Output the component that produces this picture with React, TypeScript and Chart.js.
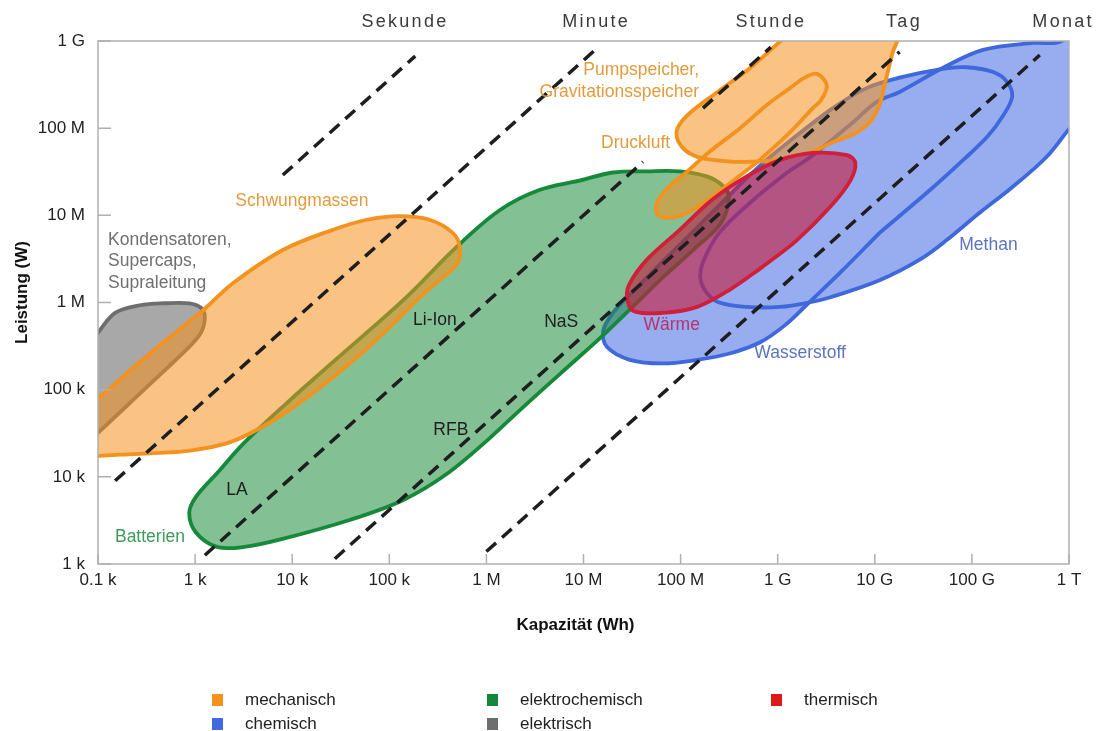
import React, { useEffect, useRef } from 'react';
import { Chart, registerables } from 'chart.js';

const FONT = "'Liberation Sans', Arial, Helvetica, sans-serif";

// ---------- axes ----------
const xTickValues = [1e2, 1e3, 1e4, 1e5, 1e6, 1e7, 1e8, 1e9, 1e10, 1e11, 1e12];
const xTickLabels = ['0.1 k', '1 k', '10 k', '100 k', '1 M', '10 M', '100 M', '1 G', '10 G', '100 G', '1 T'];
const yTickValues = [1e3, 1e4, 1e5, 1e6, 1e7, 1e8, 1e9];
const yTickLabels = ['1 k', '10 k', '100 k', '1 M', '10 M', '100 M', '1 G'];
const xAxisTitle = 'Kapazität (Wh)';
const yAxisTitle = 'Leistung (W)';

// ---------- legend ----------
const legendNames = ['mechanisch', 'elektrochemisch', 'thermisch', 'chemisch', 'elektrisch'];
const legendColors = ['#f5921e', '#13883a', '#dc1a1a', '#4169e1', '#6e6e6e'];

// ---------- storage regions: capacity (Wh) / power (W) outlines ----------
const elektrischCap = [298, 100, 51, 51, 73, 100, 150, 270, 490, 870, 1150, 1260, 1150, 870, 298];
const elektrischPow = [1.0e5, 3.2e4, 1.6e4, 1.68e5, 2.85e5, 4.5e5, 7.6e5, 9.3e5, 9.8e5, 9.8e5, 8.7e5, 6.8e5, 4.5e5, 3.1e5, 1.0e5];

const schwungCap = [343, 169, 41, 41, 105, 343, 1200, 2450, 8000, 2.6e4, 5.9e4, 1.29e5, 2.6e5, 4.5e5, 5.3e5, 5.0e5, 3.3e5, 1.93e5, 9.0e4, 3.9e4, 1.45e4, 5900, 2300, 890, 343];
const schwungPow = [1.86e4, 1.8e4, 1.8e4, 3.4e4, 8.3e4, 2.6e5, 8.1e5, 1.66e6, 4.0e6, 6.8e6, 8.9e6, 9.8e6, 8.9e6, 6.3e6, 4.4e6, 2.8e6, 1.82e6, 1.07e6, 4.6e5, 2.0e5, 8.3e4, 4.2e4, 2.5e4, 2.0e4, 1.86e4];

const batterienCap = [2.4e4, 1.4e5, 5.0e5, 1.38e6, 3.5e6, 9.1e6, 2.0e7, 4.5e7, 9.8e7, 1.86e8, 2.7e8, 3.15e8, 2.6e8, 1.48e8, 6.6e7, 3.2e7, 1.48e7, 5.7e6, 2.2e6, 1.09e6, 4.0e5, 1.38e5, 3.9e4, 7.4e3, 3.2e3, 1.68e3, 1.02e3, 870, 1.02e3, 1.68e3, 3.2e3, 9.5e3, 2.4e4];
const batterienPow = [1.9e5, 1.07e6, 4.4e6, 1.15e7, 1.95e7, 2.5e7, 3.1e7, 3.2e7, 3.2e7, 2.8e7, 2.2e7, 1.62e7, 8.1e6, 4.4e6, 1.95e6, 8.9e5, 3.9e5, 1.51e5, 5.8e4, 2.8e4, 1.1e4, 5.4e3, 3.2e3, 1.9e3, 1.57e3, 1.57e3, 2.3e3, 3.85e3, 5.9e3, 1.1e4, 2.45e4, 7.6e4, 1.9e5];

const pumpCap = [3.5e8, 7.8e8, 1.35e9, 2.3e9, 3.7e9, 6.0e9, 8.9e9, 1.12e10, 1.3e10, 1.5e10, 1.74e10, 1.6e9, 1.05e9, 5.2e8, 2.4e8, 1.17e8, 9.1e7, 1.06e8, 1.58e8, 3.5e8];
const pumpPow = [4.1e7, 4.2e7, 4.7e7, 5.4e7, 6.9e7, 8.5e7, 1.17e8, 1.86e8, 3.6e8, 6.9e8, 1.45e9, 1.45e9, 9.8e8, 4.9e8, 2.6e8, 1.4e8, 9.1e7, 5.9e7, 4.6e7, 4.1e7];

const druckCap = [6.2e8, 3.0e8, 1.6e8, 9.1e7, 5.9e7, 5.7e7, 7.8e7, 1.06e8, 2.0e8, 4.1e8, 7.8e8, 1.35e9, 1.9e9, 2.54e9, 3.2e9, 2.8e9, 2.3e9, 1.25e9, 6.2e8];
const druckPow = [4.1e7, 2.2e7, 1.3e7, 9.6e6, 1.0e7, 1.4e7, 2.2e7, 2.9e7, 5.4e7, 1.0e8, 1.86e8, 2.9e8, 3.8e8, 4.2e8, 3.1e8, 2.1e8, 1.7e8, 8.3e7, 4.1e7];

const waermeCap = [7.1e8, 1.58e9, 3.5e9, 5.6e9, 6.3e9, 5.2e9, 2.3e9, 1.05e9, 4.8e8, 2.1e8, 9.8e7, 4.5e7, 3.0e7, 2.8e7, 3.2e7, 6.6e7, 1.48e8, 3.2e8, 7.1e8];
const waermePow = [2.6e6, 5.2e6, 1.26e7, 2.5e7, 4.0e7, 4.9e7, 5.2e7, 4.3e7, 2.8e7, 1.5e7, 6.8e6, 3.1e6, 1.66e6, 1.19e6, 8.1e5, 7.6e5, 8.9e5, 1.4e6, 2.6e6];

const methanCap = [1.25e9, 5.6e8, 2.5e8, 1.7e8, 1.6e8, 1.86e8, 2.5e8, 4.8e8, 1.05e9, 2.1e9, 3.5e9, 1.12e10, 2.9e10, 5.5e10, 1.2e11, 2.6e11, 5.9e11, 9.8e11, 1.66e12, 1.66e12, 8.1e11, 4.3e11, 1.3e11, 5.0e10, 1.8e10, 1.05e10, 5.6e9, 2.3e9, 1.25e9];
const methanPow = [3.1e7, 1.5e7, 6.3e6, 2.9e6, 1.9e6, 1.29e6, 1.0e6, 8.9e5, 8.9e5, 1.0e6, 1.15e6, 1.8e6, 3.1e6, 5.2e6, 1.07e7, 2.1e7, 4.7e7, 9.5e7, 1.86e8, 1.7e9, 9.8e8, 9.5e8, 7.9e8, 4.9e8, 2.6e8, 2.0e8, 1.1e8, 4.9e7, 3.1e7];

const wasserCap = [1.12e10, 3.7e10, 8.1e10, 1.43e11, 2.1e11, 2.6e11, 2.3e11, 1.66e11, 8.9e10, 5.0e10, 1.8e10, 8.3e9, 3.7e9, 1.35e9, 6.2e8, 2.5e8, 9.8e7, 3.8e7, 2.1e7, 1.6e7, 1.74e7, 3.0e7, 6.6e7, 1.48e8, 3.2e8, 6.6e8, 1.19e9, 2.1e9, 4.4e9, 1.12e10];
const wasserPow = [6.3e6, 1.95e7, 4.3e7, 7.9e7, 1.4e8, 2.3e8, 3.4e8, 4.4e8, 5.0e8, 4.8e8, 3.8e8, 2.9e8, 1.7e8, 7.2e7, 3.5e7, 1.3e7, 4.6e6, 1.6e6, 8.1e5, 4.8e5, 3.1e5, 2.2e5, 2.0e5, 2.2e5, 2.6e5, 3.5e5, 5.5e5, 1.0e6, 2.2e6, 6.3e6];

// ---------- discharge-time lines (Wh -> W) ----------
const sekundeCap = [8.0e3, 1.85e5];
const sekundePow = [2.9e7, 6.7e8];
const minuteCap = [150, 1.4e7];
const minutePow = [9.0e3, 8.4e8];
const stundeCap = [1.26e3, 4.1e7, 8.0e7, 1.7e8, 8.5e8];
const stundePow = [1.26e3, 4.1e7, null, 1.7e8, 8.5e8];
const tagCap = [2.75e4, 1.8e10];
const tagPow = [1.15e3, 7.5e8];
const monatCap = [1.0e6, 5.0e11];
const monatPow = [1.39e3, 6.9e8];

const timeLabelNames = ['Sekunde', 'Minute', 'Stunde', 'Tag', 'Monat'];
const timeLabelCap = [1.45e5, 1.35e7, 8.5e8, 2.0e10, 8.7e11];

// ---------- region labels ----------
const regionLabelText = [
  ['Kondensatoren,', 'Supercaps,', 'Supraleitung'],
  ['Schwungmassen'],
  ['Pumpspeicher,', 'Gravitationsspeicher'],
  ['Druckluft'],
  ['Li-Ion'],
  ['NaS'],
  ['RFB'],
  ['LA'],
  ['Batterien'],
  ['Wärme'],
  ['Wasserstoff'],
  ['Methan'],
];
const regionLabelCap = [127, 1.26e4, 1.55e8, 7.8e7, 2.95e5, 5.9e6, 4.3e5, 2.7e3, 343, 8.1e7, 1.7e9, 1.48e11];
const regionLabelPow = [5.2e6, 1.46e7, 4.6e8, 6.8e7, 6.3e5, 6.0e5, 3.4e4, 7.1e3, 2.04e3, 5.5e5, 2.6e5, 4.5e6];
const regionLabelAlign = ['left', 'center', 'right', 'right', 'center', 'center', 'center', 'center', 'center', 'center', 'center', 'center'];
const regionLabelColor = ['#6f6f6f', '#e39b3e', '#e39b3e', '#e39b3e', '#1e1e1e', '#1e1e1e', '#1e1e1e', '#1e1e1e', '#3d9a57', '#b8336a', '#5b74c0', '#5b74c0'];

// ---------- styles ----------
const ORANGE = '#f3921e';
const ORANGE_FILL = 'rgba(245,146,30,0.55)';
const BLUE = '#3f68dc';
const BLUE_FILL = 'rgba(65,105,225,0.55)';
const GREEN = '#168a3a';
const GREEN_FILL = 'rgba(30,140,60,0.55)';
const GRAY = '#6e6e6e';
const GRAY_FILL = 'rgba(110,110,110,0.6)';
const RED = '#cf1f3a';
const RED_FILL = 'rgba(200,25,60,0.6)';

const pts = (cap: any[], pow: any[]) => cap.map((c, i) => ({ x: c, y: pow[i] }));

const clipOutPlugin = {
  id: 'clipOut',
  beforeDatasetDraw(chart: any, args: any) {
    const ds = chart.data.datasets[args.index];
    if (!ds || !ds.clipOut) return;
    const ctx = chart.ctx;
    ctx.save();
    const idx = chart.data.datasets.findIndex((d: any) => d.label === ds.clipOut);
    if (idx < 0) return;
    const other = chart.getDatasetMeta(idx).dataset;
    if (!other) return;
    ctx.beginPath();
    ctx.rect(0, 0, chart.width, chart.height);
    other.path(ctx);
    ctx.clip('evenodd');
  },
  afterDatasetDraw(chart: any, args: any) {
    const ds = chart.data.datasets[args.index];
    if (!ds || !ds.clipOut) return;
    chart.ctx.restore();
  },
};

Chart.register(clipOutPlugin as any);
Chart.register(...registerables);

const overlayPlugin = {
  id: 'overlay',
  afterDatasetsDraw(chart: any) {
    const { ctx, chartArea: a, scales } = chart;
    const xs = scales.x;
    const ys = scales.y;
    ctx.save();
    // frame
    ctx.strokeStyle = '#b0b0b0';
    ctx.lineWidth = 1.5;
    ctx.strokeRect(a.left, a.top, a.right - a.left, a.bottom - a.top);
    // inward tick marks
    ctx.beginPath();
    xTickValues.forEach((v) => {
      const px = xs.getPixelForValue(v);
      ctx.moveTo(px, a.bottom);
      ctx.lineTo(px, a.bottom - 10);
    });
    yTickValues.forEach((v) => {
      const py = ys.getPixelForValue(v);
      ctx.moveTo(a.left, py);
      ctx.lineTo(a.left + 13, py);
    });
    ctx.stroke();

    // region labels
    ctx.textBaseline = 'middle';
    ctx.font = `17.5px ${FONT}`;
    regionLabelText.forEach((lines, i) => {
      const px = xs.getPixelForValue(regionLabelCap[i]);
      const py = ys.getPixelForValue(regionLabelPow[i]);
      ctx.fillStyle = regionLabelColor[i];
      ctx.textAlign = regionLabelAlign[i];
      lines.forEach((t, j) => ctx.fillText(t, px, py + j * 21.5));
    });

    // time labels on top
    ctx.font = `18px ${FONT}`;
    ctx.fillStyle = '#3a3a3a';
    ctx.textAlign = 'center';
    (ctx as any).letterSpacing = '2.3px';
    timeLabelNames.forEach((t, i) => {
      ctx.fillText(t, xs.getPixelForValue(timeLabelCap[i]), a.top - 19);
    });
    (ctx as any).letterSpacing = '0px';

    // axis titles
    ctx.font = `bold 17px ${FONT}`;
    ctx.fillStyle = '#111';
    ctx.textAlign = 'center';
    ctx.fillText(xAxisTitle, (a.left + a.right) / 2 - 8, a.bottom + 61);
    ctx.save();
    ctx.translate(22, (a.top + a.bottom) / 2 - 10);
    ctx.rotate(-Math.PI / 2);
    ctx.fillText(yAxisTitle, 0, 0);
    ctx.restore();

    // legend
    const colX = [212, 487, 771];
    const rowY = [700, 724];
    ctx.font = `17px ${FONT}`;
    ctx.textAlign = 'left';
    legendNames.forEach((name, i) => {
      const cx = colX[i % 3];
      const cy = rowY[Math.floor(i / 3)];
      ctx.fillStyle = legendColors[i];
      ctx.fillRect(cx, cy - 6, 11, 12);
      ctx.fillStyle = '#222';
      ctx.fillText(name, cx + 33, cy);
    });
    ctx.restore();
  },
};

function buildConfig(): any {
  const region = (label: string, cap: number[], pow: number[], stroke: string, fill: string, order: number, extra: any = {}) => ({
    label,
    data: pts(cap, pow),
    borderColor: stroke,
    backgroundColor: fill,
    borderWidth: 3.8,
    fill: 'shape',
    tension: 0.35,
    pointRadius: 0,
    order,
    ...extra,
  });
  const timeLine = (label: string, cap: any[], pow: any[]) => ({
    label,
    data: pts(cap, pow),
    borderColor: '#1e1e1e',
    borderWidth: 3.5,
    borderDash: [13, 8],
    fill: false,
    tension: 0,
    pointRadius: 0,
    spanGaps: false,
    order: 0,
  });
  const datasets = [
    region('MethanFill', methanCap, methanPow, BLUE, BLUE_FILL, 100, { borderWidth: 0 }),
    region('WasserstoffFill', wasserCap, wasserPow, BLUE, BLUE_FILL, 99, { borderWidth: 0, clipOut: 'MethanFill' }),
    region('Methan', methanCap, methanPow, BLUE, BLUE_FILL, 98, { fill: false }),
    region('Wasserstoff', wasserCap, wasserPow, BLUE, BLUE_FILL, 97, { fill: false }),
    region('Kondensatoren', elektrischCap, elektrischPow, GRAY, GRAY_FILL, 90),
    region('Batterien', batterienCap, batterienPow, GREEN, GREEN_FILL, 80),
    region('Schwungmassen', schwungCap, schwungPow, ORANGE, ORANGE_FILL, 70),
    region('Pumpspeicher', pumpCap, pumpPow, ORANGE, ORANGE_FILL, 60),
    region('DruckluftFill', druckCap, druckPow, ORANGE, ORANGE_FILL, 55, { borderWidth: 0, clipOut: 'Pumpspeicher' }),
    region('Druckluft', druckCap, druckPow, ORANGE, ORANGE_FILL, 54, { fill: false }),
    region('Wärme', waermeCap, waermePow, RED, RED_FILL, 50),
    timeLine('Sekunde', sekundeCap, sekundePow),
    timeLine('Minute', minuteCap, minutePow),
    timeLine('Stunde', stundeCap, stundePow),
    timeLine('Tag', tagCap, tagPow),
    timeLine('Monat', monatCap, monatPow),
  ];

  const tickFont = { size: 17, family: FONT };
  return {
    type: 'line',
    data: { datasets },
    options: {
      animation: false,
      responsive: false,
      events: [],
      layout: { padding: { top: 41, right: 31, left: 0, bottom: 0 } },
      elements: { line: { capBezierPoints: false }, point: { radius: 0 } },
      plugins: { legend: { display: false }, tooltip: { enabled: false }, title: { display: false } },
      scales: {
        x: {
          type: 'logarithmic',
          position: 'bottom',
          min: 1e2,
          max: 1e12,
          afterBuildTicks: (s: any) => {
            s.ticks = xTickValues.map((v) => ({ value: v }));
          },
          afterFit: (s: any) => {
            s.height = 167;
          },
          ticks: {
            autoSkip: false,
            maxRotation: 0,
            minRotation: 0,
            padding: 6,
            color: '#222',
            font: tickFont,
            callback: (_v: any, i: number) => xTickLabels[i],
          },
          grid: { display: false, drawTicks: false },
          border: { display: false },
        },
        y: {
          type: 'logarithmic',
          position: 'left',
          min: 1e3,
          max: 1e9,
          afterBuildTicks: (s: any) => {
            s.ticks = yTickValues.map((v) => ({ value: v }));
          },
          afterFit: (s: any) => {
            s.width = 98;
          },
          ticks: {
            autoSkip: false,
            padding: 13,
            color: '#222',
            font: tickFont,
            callback: (_v: any, i: number) => yTickLabels[i],
          },
          grid: { display: false, drawTicks: false },
          border: { display: false },
        },
      },
    },
    plugins: [overlayPlugin],
  };
}

export default function App() {
  const ref = useRef<HTMLCanvasElement>(null);
  useEffect(() => {
    document.body.style.margin = '0';
    Chart.defaults.font.family = FONT;
    const chart = new Chart(ref.current as HTMLCanvasElement, buildConfig());
    return () => chart.destroy();
  }, []);
  return <canvas ref={ref} width={1100} height={731} style={{ display: 'block' }} />;
}
